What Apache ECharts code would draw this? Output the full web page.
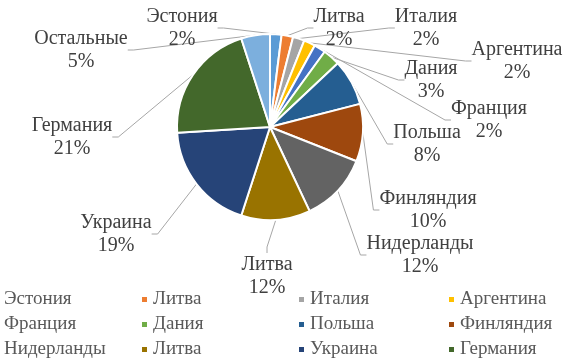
<!DOCTYPE html>
<html><head><meta charset="utf-8">
<script src="https://cdn.jsdelivr.net/npm/echarts@6/dist/echarts.min.js"></script>
<style>html,body{margin:0;padding:0;background:#fff}#c{width:578px;height:364px}</style>
</head><body><div id="c"></div>
<script>
const categories = ['Эстония','Литва','Италия','Аргентина','Франция','Дания','Польша','Финляндия','Нидерланды','Литва','Украина','Германия','Остальные'];
const values = [2,2,2,2,2,3,8,10,12,12,19,21,5];
const colors = ['#5b9bd5','#ed7d31','#a5a5a5','#ffc000','#4472c4','#70ad47','#255e91','#9e480e','#636363','#997300','#264478','#43682b','#7cafdd'];
// label block centres (layout only)
const labelPos = [[182,28],[339,28],[426,28],[517,61],[489,120],[431,80],[427,144],[428,210],[420,255],[267,276],[116,234],[72,137],[81,50]];

// make names unique for legend colour lookup
const seen = {};
const ids = categories.map(n => { seen[n] = (seen[n] || 0) + 1; return n + ' '.repeat(seen[n] - 1); });

const FONT = "'Liberation Serif','Times New Roman',serif";
const legendCols = [-9, 140, 297, 447];
const legends = legendCols.map((x, c) => ({
  orient: 'vertical', left: x, top: 290, height: 90, padding: 0, itemGap: 6,
  icon: 'rect', itemWidth: 7, itemHeight: 7, itemTextGap: 5,
  selectedMode: false,
  textStyle: { fontFamily: FONT, fontSize: 19, lineHeight: 18, color: '#595959' },
  formatter: n => n.trim(),
  data: ids.slice(0, 12).filter((_, i) => i % 4 === c)
}));

const chart = echarts.init(document.getElementById('c'), null, { renderer: 'canvas' });
chart.setOption({
  animation: false,
  color: colors,
  legend: legends,
  series: [{
    type: 'pie',
    center: [270, 127],
    radius: 93,
    startAngle: 90,
    clockwise: true,
    avoidLabelOverlap: false,
    itemStyle: { borderColor: '#fff', borderWidth: 2 },
    label: {
      show: true,
      fontFamily: FONT, fontSize: 20, color: '#404040', lineHeight: 23,
      align: 'center',
      formatter: p => p.name.trim() + '\n' + p.value + '%'
    },
    labelLine: { show: true, length: 10, length2: 6, lineStyle: { color: '#a6a6a6', width: 1 } },
    labelLayout: p => ({ x: labelPos[p.dataIndex][0], y: labelPos[p.dataIndex][1], align: 'center', verticalAlign: 'middle' }),
    data: ids.map((n, i) => ({ name: n, value: values[i] }))
  }]
});
</script></body></html>
